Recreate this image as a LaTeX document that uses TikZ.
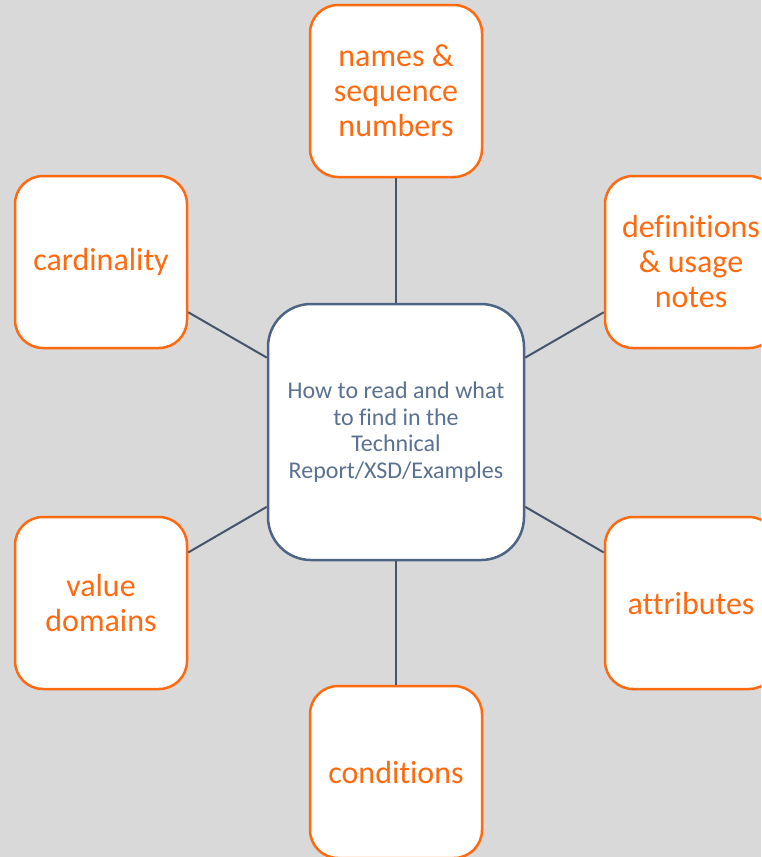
\documentclass[tikz,border=0pt]{standalone}
\usepackage{fontspec}
\setmainfont{Carlito}[Ligatures={NoCommon,NoRequired,NoContextual}]
\definecolor{bg}{HTML}{D9D9D9}
\definecolor{orng}{HTML}{FF6A10}
\definecolor{hubline}{HTML}{4D6585}
\definecolor{hubtext}{HTML}{5A7191}
\definecolor{conn}{HTML}{44546A}
\begin{document}
\begin{tikzpicture}[x=1pt,y=-1pt,
  sat/.style={draw=orng, fill=white, line width=2.5pt, rounded corners=28pt,
    minimum width=172pt, minimum height=172pt, inner sep=0pt, align=center,
    text=orng, font=\fontsize{32}{35}\selectfont},
  hub/.style={draw=hubline, fill=white, line width=2.5pt, rounded corners=43pt,
    minimum width=256pt, minimum height=256pt, inner sep=0pt, align=center,
    text=hubtext, font=\fontsize{24}{26.6}\selectfont},
  link/.style={draw=conn, line width=2pt}]
\useasboundingbox (0,0) rectangle (761,857);
\clip (0,0) rectangle (761,857);
\fill[bg] (0,0) rectangle (761,857);
\node[hub] (c) at (396,432) {How to read and what\\to find in the\\Technical\\Report/XSD/Examples};
\node[sat] (t) at (396,91) {names \&\\sequence\\numbers};
\node[sat] (lt) at (101,262) {cardinality};
\node[sat] (rt) at (691,262) {defi{}nitions\\\& usage\\notes};
\node[sat] (lb) at (101,603) {value\\domains};
\node[sat] (rb) at (691,603) {attributes};
\node[sat] (b) at (396,772) {conditions};
\draw[link] (c) -- (t);
\draw[link] (c) -- (lt);
\draw[link] (c) -- (rt);
\draw[link] (c) -- (lb);
\draw[link] (c) -- (rb);
\draw[link] (c) -- (b);
\end{tikzpicture}
\end{document}
